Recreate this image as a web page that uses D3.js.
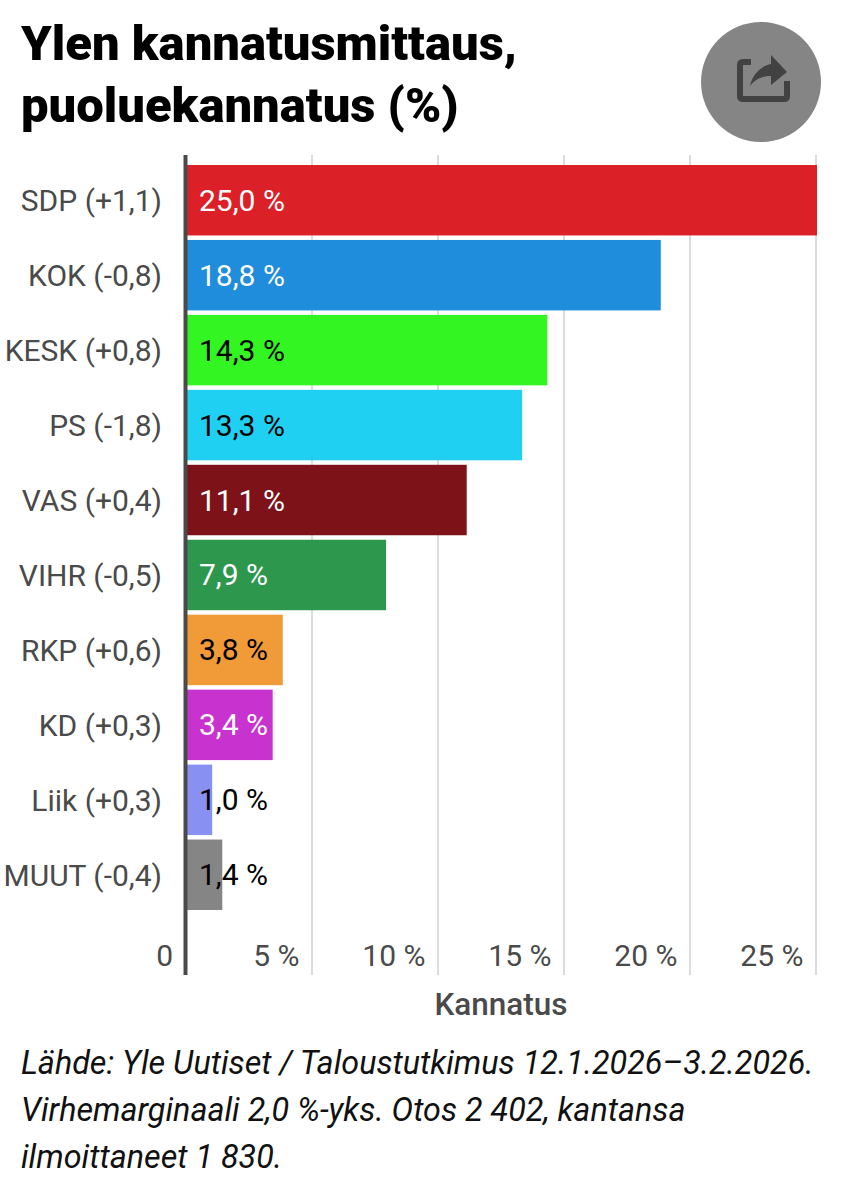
<!DOCTYPE html>
<html><head><meta charset="utf-8">
<script src="https://cdn.jsdelivr.net/npm/d3@7"></script>
<style>html,body{margin:0;padding:0;background:#fff}svg{display:block}text{font-family:Roboto,sans-serif}</style>
</head><body><svg id="c" width="850" height="1200"></svg>
<script>
const categories=["SDP (+1,1)","KOK (-0,8)","KESK (+0,8)","PS (-1,8)","VAS (+0,4)","VIHR (-0,5)","RKP (+0,6)","KD (+0,3)","Liik (+0,3)","MUUT (-0,4)"];
const values=[25.0,18.8,14.3,13.3,11.1,7.9,3.8,3.4,1.0,1.4];
const colors=["#dc2028","#208cdc","#32f522","#20d0f2","#7d1318","#2e974e","#f09a38","#c832cf","#8890f2","#858585"];
const labelColors=["#fff","#fff","#000","#000","#fff","#fff","#000","#fff","#000","#000"];
const tickValues=[5,10,15,20,25];
const titleLines=["Ylen kannatusmittaus,","puoluekannatus (%)"];
const footLines=["Lähde: Yle Uutiset / Taloustutkimus 12.1.2026–3.2.2026.","Virhemarginaali 2,0 %-yks. Otos 2 402, kantansa","ilmoittaneet 1 830."];
const fmt=v=>v.toFixed(1).replace(".",",")+" %";

const svg=d3.select("#c");
const x=d3.scaleLinear().domain([0,25]).range([187,817]);
const y=d3.scaleBand().domain(categories).range([162.5,912.5]).paddingInner(4.5/75).paddingOuter(2.5/75);
const axisTop=155,axisBottom=975;

svg.selectAll(".title").data(titleLines).join("text").attr("class","title")
 .attr("x",21).attr("y",(d,i)=>60+i*62).attr("font-size",49).attr("font-weight",900).attr("fill","#000").text(d=>d);

// share button
const btn=svg.append("g").attr("transform","translate(761,82)");
btn.append("circle").attr("r",60).attr("fill","#858585");
btn.append("path").attr("d","M-10,-20H-18Q-21,-20 -21,-17V14Q-21,17 -18,17H23Q26,17 26,14V-1").attr("fill","none").attr("stroke","#424242").attr("stroke-width",6);
btn.append("path").attr("d","M-11,4C-8,-10 3,-17 10,-18V-27L26,-10L10,3V-6C3,-6 -5,-4 -11,4Z").attr("fill","#424242");

// grid
svg.selectAll(".grid").data(tickValues).join("line").attr("class","grid")
 .attr("x1",d=>x(d)-1).attr("x2",d=>x(d)-1).attr("y1",axisTop).attr("y2",axisBottom)
 .attr("stroke","#dcdcdc").attr("stroke-width",2);

// bars
svg.selectAll(".bar").data(values).join("rect").attr("class","bar")
 .attr("x",x(0)).attr("y",(d,i)=>y(categories[i])).attr("width",d=>x(d)-x(0)).attr("height",y.bandwidth())
 .attr("fill",(d,i)=>colors[i]);

// category labels
svg.selectAll(".cat").data(categories).join("text").attr("class","cat")
 .attr("x",162).attr("y",d=>y(d)+y.bandwidth()/2+11).attr("text-anchor","end")
 .attr("font-size",30).attr("font-weight",450).attr("fill","#4a4a4a").text(d=>d);

// value labels
svg.selectAll(".val").data(values).join("text").attr("class","val")
 .attr("x",199).attr("y",(d,i)=>y(categories[i])+y.bandwidth()/2+10.5)
 .attr("font-size",30).attr("font-weight",450).attr("fill",(d,i)=>labelColors[i]).text(fmt);

// axis line
svg.append("line").attr("x1",x(0)-1.5).attr("x2",x(0)-1.5).attr("y1",axisTop).attr("y2",axisBottom).attr("stroke","#4a4a4a").attr("stroke-width",4);

// tick labels
svg.append("text").attr("x",173).attr("y",966).attr("text-anchor","end").attr("font-size",30).attr("font-weight",450).attr("fill","#4a4a4a").text("0");
svg.selectAll(".tick").data(tickValues).join("text").attr("class","tick")
 .attr("x",d=>x(d)-13.5).attr("y",966).attr("text-anchor","end").attr("font-size",30).attr("font-weight",450).attr("fill","#4a4a4a").text(d=>d+" %");

svg.append("text").attr("x",501).attr("y",1015).attr("text-anchor","middle").attr("font-size",31.5).attr("font-weight",500).attr("fill","#4a4a4a").text("Kannatus");

svg.selectAll(".foot").data(footLines).join("text").attr("class","foot")
 .attr("x",21).attr("y",(d,i)=>1074+i*47).attr("font-size",32.3).attr("font-style","italic").attr("fill","#111").text(d=>d);
</script></body></html>
